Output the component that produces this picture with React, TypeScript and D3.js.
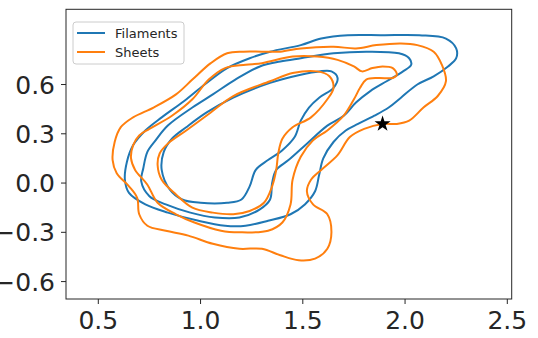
import React from "react";
import * as d3 from "d3";

type P = [number, number];

// Filaments (blue) density contours, outer → inner
const filamentsLevel1: P[] = [
  [0.63, 0.02], [0.64, 0.13], [0.67, 0.23], [0.73, 0.32], [0.81, 0.4], [0.92, 0.5], [1.02, 0.6],
  [1.13, 0.7], [1.24, 0.76], [1.34, 0.8], [1.49, 0.84], [1.59, 0.88], [1.72, 0.9], [1.89, 0.9],
  [2.07, 0.9], [2.2, 0.88], [2.25, 0.82], [2.25, 0.76], [2.21, 0.71], [2.14, 0.65], [2.06, 0.6],
  [1.98, 0.52], [1.92, 0.46], [1.85, 0.41], [1.77, 0.36], [1.71, 0.32], [1.65, 0.25], [1.6, 0.15],
  [1.58, 0.05], [1.56, -0.05], [1.51, -0.13], [1.44, -0.19], [1.33, -0.23], [1.22, -0.26],
  [1.12, -0.26], [0.99, -0.23], [0.84, -0.18], [0.73, -0.13], [0.65, -0.06],
];
const filamentsLevel2: P[] = [
  [0.71, 0.01], [0.72, 0.09], [0.74, 0.19], [0.78, 0.26], [0.84, 0.35], [0.96, 0.46], [1.06, 0.54],
  [1.17, 0.63], [1.29, 0.71], [1.39, 0.74], [1.49, 0.76], [1.65, 0.79], [1.81, 0.8], [1.97, 0.79],
  [2.02, 0.76], [2.03, 0.72], [1.99, 0.68], [1.91, 0.62], [1.83, 0.56], [1.76, 0.49], [1.7, 0.41],
  [1.62, 0.35], [1.52, 0.24], [1.43, 0.14], [1.37, 0.08], [1.35, 0.0], [1.34, -0.1], [1.29, -0.16],
  [1.19, -0.21], [1.07, -0.21], [0.95, -0.18], [0.83, -0.13], [0.75, -0.08],
];
const filamentsLevel3: P[] = [
  [0.81, 0.08], [0.82, 0.19], [0.86, 0.27], [0.93, 0.34], [1.03, 0.43], [1.16, 0.52], [1.34, 0.61],
  [1.49, 0.66], [1.58, 0.68], [1.64, 0.68], [1.67, 0.64], [1.65, 0.58], [1.58, 0.52], [1.53, 0.46],
  [1.49, 0.38], [1.46, 0.28], [1.4, 0.2], [1.33, 0.14], [1.27, 0.08], [1.24, -0.02], [1.2, -0.1],
  [1.13, -0.12], [1.0, -0.12], [0.91, -0.1], [0.85, -0.04],
];

// Sheets (orange) density contours, outer → inner
const sheetsLevel1: P[] = [
  [0.57, 0.14], [0.58, 0.25], [0.61, 0.34], [0.67, 0.4], [0.77, 0.46], [0.88, 0.54], [0.96, 0.63],
  [1.05, 0.73], [1.13, 0.79], [1.21, 0.8], [1.3, 0.8], [1.39, 0.8], [1.49, 0.82], [1.65, 0.83],
  [1.76, 0.82], [1.86, 0.84], [1.98, 0.85], [2.06, 0.84], [2.14, 0.8], [2.18, 0.72], [2.2, 0.62],
  [2.16, 0.53], [2.09, 0.46], [2.02, 0.38], [1.96, 0.36], [1.89, 0.36], [1.8, 0.33], [1.73, 0.28],
  [1.67, 0.17], [1.59, 0.08], [1.54, 0.02], [1.52, -0.05], [1.55, -0.13], [1.62, -0.19],
  [1.64, -0.3], [1.62, -0.4], [1.56, -0.46], [1.48, -0.47], [1.39, -0.44], [1.3, -0.4],
  [1.19, -0.4], [1.06, -0.37], [0.94, -0.32], [0.83, -0.29], [0.74, -0.26], [0.7, -0.19],
  [0.69, -0.09], [0.65, -0.02], [0.59, 0.06],
];
const sheetsLevel2: P[] = [
  [0.66, 0.15], [0.67, 0.23], [0.7, 0.29], [0.75, 0.33], [0.86, 0.41], [0.96, 0.51], [1.04, 0.63],
  [1.12, 0.7], [1.22, 0.72], [1.3, 0.73], [1.45, 0.77], [1.57, 0.77], [1.67, 0.75], [1.75, 0.71],
  [1.79, 0.68], [1.84, 0.7], [1.89, 0.71], [1.94, 0.7], [1.96, 0.66], [1.94, 0.64], [1.87, 0.64],
  [1.81, 0.63], [1.78, 0.58], [1.75, 0.51], [1.7, 0.41], [1.62, 0.32], [1.55, 0.26], [1.49, 0.16],
  [1.45, 0.02], [1.44, -0.13], [1.4, -0.24], [1.33, -0.29], [1.19, -0.3], [1.1, -0.29],
  [0.97, -0.24], [0.88, -0.19], [0.79, -0.12], [0.74, -0.01], [0.68, 0.08],
];
const sheetsLevel3: P[] = [
  [0.79, 0.11], [0.8, 0.18], [0.84, 0.24], [0.93, 0.32], [1.05, 0.43], [1.16, 0.53], [1.34, 0.62],
  [1.45, 0.67], [1.57, 0.68], [1.63, 0.65], [1.65, 0.58], [1.62, 0.51], [1.54, 0.4], [1.45, 0.34],
  [1.4, 0.27], [1.38, 0.18], [1.37, 0.08], [1.35, -0.02], [1.31, -0.12], [1.24, -0.17],
  [1.16, -0.19], [1.06, -0.18], [0.96, -0.15], [0.88, -0.07], [0.81, 0.02],
];

const starX = [1.89];
const starY = [0.36];

const xTicks = [0.5, 1.0, 1.5, 2.0, 2.5];
const xTickLabels = ["0.5", "1.0", "1.5", "2.0", "2.5"];
const yTicks = [-0.6, -0.3, 0.0, 0.3, 0.6];
const yTickLabels = ["\u22120.6", "\u22120.3", "0.0", "0.3", "0.6"];

const seriesNames = ["Filaments", "Sheets"];
const seriesColors = ["#1f77b4", "#ff7f0e"];

const W = 538;
const H = 338;
const plot = { left: 66, right: 511.7, top: 9.3, bottom: 299 };
const xDomain: [number, number] = [0.342, 2.5215];
const yDomain: [number, number] = [-0.706, 1.058];

export default function App() {
  const x = d3.scaleLinear().domain(xDomain).range([plot.left, plot.right]);
  const y = d3.scaleLinear().domain(yDomain).range([plot.bottom, plot.top]);
  const line = d3
    .line<P>()
    .x((d) => x(d[0]))
    .y((d) => y(d[1]))
    .curve(d3.curveCatmullRomClosed.alpha(0.5));

  const groups = [
    { color: seriesColors[0], levels: [filamentsLevel1, filamentsLevel2, filamentsLevel3] },
    { color: seriesColors[1], levels: [sheetsLevel1, sheetsLevel2, sheetsLevel3] },
  ];

  const star = d3.symbol().type(d3.symbolStar).size(80)();
  const axisColor = "#262626";
  const font = "DejaVu Sans, sans-serif";

  return (
    <svg
      width={W}
      height={H}
      style={{ position: "absolute", left: 0, top: 0, background: "#fff" }}
      fontFamily={font}
    >
      <rect x={0} y={0} width={W} height={H} fill="#fff" />
      <defs>
        <clipPath id="plotclip">
          <rect x={plot.left} y={plot.top} width={plot.right - plot.left} height={plot.bottom - plot.top} />
        </clipPath>
      </defs>
      <g clipPath="url(#plotclip)">
        {groups.map((g, gi) =>
          g.levels.map((lv, li) => (
            <path key={`${gi}-${li}`} d={line(lv) || ""} fill="none" stroke={g.color} strokeWidth={2} />
          ))
        )}
        {starX.map((sx, i) => (
          <path key={i} d={star || ""} transform={`translate(${x(sx)},${y(starY[i])})`} fill="#000" />
        ))}
      </g>
      <rect
        x={plot.left}
        y={plot.top}
        width={plot.right - plot.left}
        height={plot.bottom - plot.top}
        fill="none"
        stroke={axisColor}
        strokeWidth={1}
      />
      {xTicks.map((t, i) => (
        <g key={`xt${i}`}>
          <line x1={x(t)} x2={x(t)} y1={plot.bottom} y2={plot.bottom + 5} stroke={axisColor} strokeWidth={1} />
          <text x={x(t)} y={plot.bottom + 30} textAnchor="middle" fontSize={25} fill={axisColor}>
            {xTickLabels[i]}
          </text>
        </g>
      ))}
      {yTicks.map((t, i) => (
        <g key={`yt${i}`}>
          <line x1={plot.left - 5} x2={plot.left} y1={y(t)} y2={y(t)} stroke={axisColor} strokeWidth={1} />
          <text x={plot.left - 11} y={y(t) + 9} textAnchor="end" fontSize={25} fill={axisColor}>
            {yTickLabels[i]}
          </text>
        </g>
      ))}
      <g>
        <rect x={73} y={22} width={111} height={42} rx={3} fill="#fff" fillOpacity={0.8} stroke="#cccccc" strokeWidth={1} />
        {seriesNames.map((n, i) => (
          <g key={n}>
            <line x1={77} x2={105} y1={33 + i * 19} y2={33 + i * 19} stroke={seriesColors[i]} strokeWidth={2} />
            <text x={115} y={38 + i * 19} fontSize={13} fill={axisColor}>
              {n}
            </text>
          </g>
        ))}
      </g>
    </svg>
  );
}
